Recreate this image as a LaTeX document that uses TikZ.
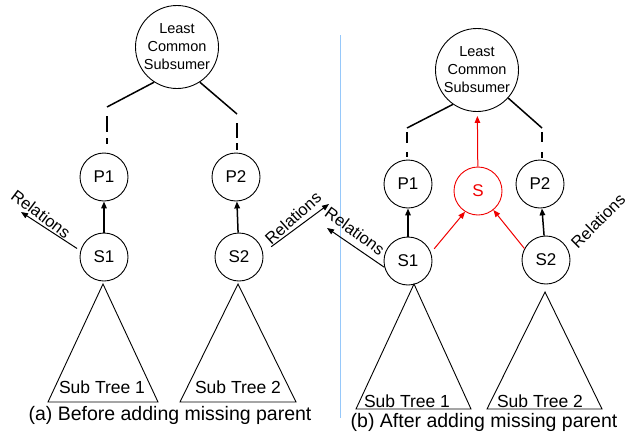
\documentclass[tikz,border=0pt]{standalone}
\usepackage{fontspec}
\setmainfont{Liberation Sans}
\usetikzlibrary{arrows.meta,calc}
\definecolor{sepblue}{RGB}{150,200,250}
\definecolor{newred}{RGB}{240,0,0}
\tikzset{
  conc/.style={circle, draw, line width=0.9pt, inner sep=0pt, minimum size=48pt, font=\fontsize{17}{20}\selectfont},
  lcs/.style={circle, draw, line width=0.9pt, inner sep=0pt, minimum size=83pt, align=center, font=\fontsize{14.5}{18}\selectfont},
  newc/.style={conc, draw=newred, text=newred},
  arr/.style={line width=1.5pt, -{Triangle[length=7pt,width=5.5pt]}},
  thinarr/.style={line width=1pt, -{Triangle[length=7pt,width=5.5pt]}},
  redarr/.style={draw=newred, line width=1pt, -{Triangle[length=7pt,width=5.5pt]}},
  link/.style={line width=1.5pt},
  tri/.style={line width=0.9pt},
  subt/.style={font=\fontsize{17.5}{20}\selectfont},
  rel/.style={font=\fontsize{16.5}{19}\selectfont},
  capt/.style={font=\fontsize{19.5}{22}\selectfont}
}
\begin{document}
\begin{tikzpicture}[x=1pt,y=-1pt]
\useasboundingbox (0,0) rectangle (628,431);
% separator
\coordinate (sepT) at (340,35);
\coordinate (sepB) at (340,418);
\draw[sepblue, line width=0.8pt] (sepT) -- (sepB);

% ===== (a) =====
\node[lcs] (lcsA) at (177,47) {Least\\Common\\Subsumer};
\node[conc] (p1A) at (104,177) {P1};
\node[conc] (p2A) at (236,177) {P2};
\node[conc] (s1A) at (104,257) {S1};
\node[conc] (s2A) at (239,257) {S2};
\coordinate (cA1) at (107,107);
\coordinate (cA2) at (237,114);
\draw[link] (lcsA.237) -- (cA1);
\draw[link] (lcsA.303) -- (cA2);
\draw[link, dash pattern=on 16pt off 6pt on 6pt off 18pt, dash phase=37pt] (cA1) -- (cA1 |- p1A.north);
\draw[link, dash pattern=on 15pt off 5pt on 7pt off 12pt, dash phase=30pt] (cA2) -- (cA2 |- p2A.north);
\draw[arr] (s1A) -- (p1A);
\draw[arr] (s2A) -- (p2A);
% relations
\coordinate (rA1) at (21,212);
\coordinate (rA2) at (329,204);
\draw[thinarr, shorten <=4pt] (s1A.165) -- (rA1);
\draw[thinarr, shorten <=10pt] (s2A.10) -- (rA2);
\node[rel, rotate=-37] (relA1) at (41,214) {Relations};
\node[rel, rotate=42] (relA2) at (293,218) {Relations};
% subtrees
\coordinate (tA1) at (103,284);
\coordinate (tA1l) at (48,402);
\coordinate (tA1r) at (158,402);
\draw[tri] (tA1) -- (tA1l) -- (tA1r) -- cycle;
\node[subt] (stA1) at (102,387) {Sub Tree 1};
\coordinate (tA2) at (238,284);
\coordinate (tA2l) at (180,402);
\coordinate (tA2r) at (296,402);
\draw[tri] (tA2) -- (tA2l) -- (tA2r) -- cycle;
\node[subt] (stA2) at (238,387) {Sub Tree 2};
\node[capt] (capA) at (170,415) {(a) Before adding missing parent};

% ===== (b) =====
\node[lcs] (lcsB) at (477,70) {Least\\Common\\Subsumer};
\node[conc] (p1B) at (408,184) {P1};
\node[newc] (sB) at (478,191) {S};
\node[conc] (p2B) at (540,184) {P2};
\node[conc] (s1B) at (408,261) {S1};
\node[conc] (s2B) at (546,260) {S2};
\coordinate (cB1) at (407,128);
\coordinate (cB2) at (542,128);
\draw[link] (lcsB.235) -- (cB1);
\draw[link] (lcsB.318) -- (cB2);
\draw[link, dash pattern=on 11pt off 9pt on 5pt off 7pt, dash phase=28pt] (cB1) -- (cB1 |- p1B.north);
\draw[link, dash pattern=on 10pt off 10pt on 6pt off 6pt, dash phase=28pt] (cB2) -- (cB2 |- p2B.north);
\draw[arr] (s1B) -- (p1B);
\draw[arr] (s2B) -- (p2B);
\draw[redarr, shorten >=4pt] (sB) -- (lcsB);
\draw[redarr, shorten <=5pt] (s1B.20) -- (sB.238);
\draw[redarr] (s2B.152) -- (sB.309);
\coordinate (rB1) at (327,228);
\draw[thinarr] (s1B.195) -- (rB1);
\node[rel, rotate=-36] (relB1) at (355,231) {Relations};
\node[rel, rotate=45] (relB2) at (598,221) {Relations};
\coordinate (tB1) at (414,284);
\coordinate (tB1l) at (356,409);
\coordinate (tB1r) at (471,409);
\draw[tri] (tB1) -- (tB1l) -- (tB1r) -- cycle;
\node[subt] (stB1) at (407,401) {Sub Tree 1};
\coordinate (tB2) at (545,292);
\coordinate (tB2l) at (487,409);
\coordinate (tB2r) at (602,409);
\draw[tri] (tB2) -- (tB2l) -- (tB2r) -- cycle;
\node[subt] (stB2) at (540,401) {Sub Tree 2};
\node[capt] (capB) at (484,422) {(b) After adding missing parent};
\end{tikzpicture}
\end{document}
